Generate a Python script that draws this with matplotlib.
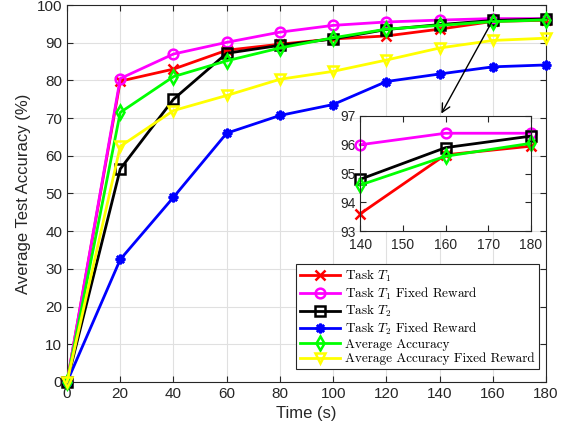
import matplotlib
matplotlib.use('Agg')
import matplotlib.pyplot as plt

plt.rcParams['font.family'] = ['Liberation Sans', 'DejaVu Sans']
plt.rcParams['mathtext.fontset'] = 'cm'
plt.rcParams['axes.unicode_minus'] = False

time = [0, 20, 40, 60, 80, 100, 120, 140, 160, 180]
task1 = [0, 79.8, 83.0, 88.0, 89.6, 91.0, 91.8, 93.6, 95.65, 95.95]
task1_fixed = [0, 80.5, 87.0, 90.1, 92.8, 94.6, 95.5, 96.0, 96.4, 96.4]
task2 = [0, 56.5, 75.0, 87.2, 89.3, 91.0, 93.5, 94.8, 95.9, 96.3]
task2_fixed = [0, 32.5, 49.0, 66.0, 70.7, 73.6, 79.7, 81.7, 83.6, 84.1]
avg = [0, 71.5, 81.0, 85.2, 88.6, 91.3, 93.6, 94.6, 95.6, 96.05]
avg_fixed = [0, 62.5, 72.0, 76.0, 80.3, 82.4, 85.4, 88.6, 90.6, 91.2]

series = [
    (task1, 'Task $T_1$', 'red', 'x'),
    (task1_fixed, 'Task $T_1$ Fixed Reward', 'magenta', 'o'),
    (task2, 'Task $T_2$', 'black', 's'),
    (task2_fixed, 'Task $T_2$ Fixed Reward', 'blue', (8, 2, 0)),
    (avg, 'Average Accuracy', '#00ff00', 'd'),
    (avg_fixed, 'Average Accuracy Fixed Reward', 'yellow', 'v'),
]
filled = ['x', (8, 2, 0)]

fig = plt.figure(figsize=(5.69, 4.36), dpi=100)
ax = fig.add_axes([0.1178, 0.1239, 0.8418, 0.8646])

for vals, label, color, mk in series:
    ax.plot(time, vals, color=color, marker=mk, markersize=7, linewidth=2,
            markerfacecolor=color if mk in filled else 'none',
            markeredgewidth=1.8, label=label, clip_on=False, zorder=3)

ax.set_xlim(0, 180)
ax.set_ylim(0, 100)
ax.set_xticks(range(0, 181, 20))
ax.set_yticks(range(0, 101, 10))
ax.grid(True, color='#e0e0e0', linewidth=0.8)
ax.set_axisbelow(True)
ax.tick_params(direction='in', labelsize=11, colors='#262626', top=True, right=True, length=4)
ax.set_xlabel('Time (s)', fontsize=12, color='#262626')
ax.set_ylabel('Average Test Accuracy (%)', fontsize=12, color='#262626')
for s in ax.spines.values():
    s.set_color('#262626')

leg = ax.legend(loc='lower right', bbox_to_anchor=(0.99, 0.027),
                prop={'family': 'cmr10', 'size': 9.5}, fancybox=False,
                edgecolor='#262626', framealpha=1, handlelength=3.0,
                labelspacing=0.12, borderpad=0.3, handletextpad=0.4,
                borderaxespad=0.2)
leg.get_frame().set_linewidth(0.8)

# inset
axin = fig.add_axes([0.633, 0.470, 0.300, 0.264])
for vals, label, color, mk in series:
    if 'Fixed' in label and 'T_1' not in label:
        continue
    axin.plot(time[7:], vals[7:], color=color, marker=mk, markersize=7, linewidth=2,
              markerfacecolor=color if mk in filled else 'none',
              markeredgewidth=1.8, clip_on=False)
axin.set_xlim(140, 180)
axin.set_ylim(93, 97)
axin.set_xticks([140, 150, 160, 170, 180])
axin.set_yticks([93, 94, 95, 96, 97])
axin.tick_params(direction='in', labelsize=10, colors='#262626', top=True, right=True, length=4)
axin.tick_params(axis='x', pad=5)
for s in axin.spines.values():
    s.set_color('#262626')

ax.annotate('', xy=(440 / 569, 1 - 116 / 436), xycoords='figure fraction',
            xytext=(160, 96), textcoords='data',
            arrowprops=dict(arrowstyle='->', color='black', lw=1, mutation_scale=15))

fig.savefig('out.png', dpi=100)
